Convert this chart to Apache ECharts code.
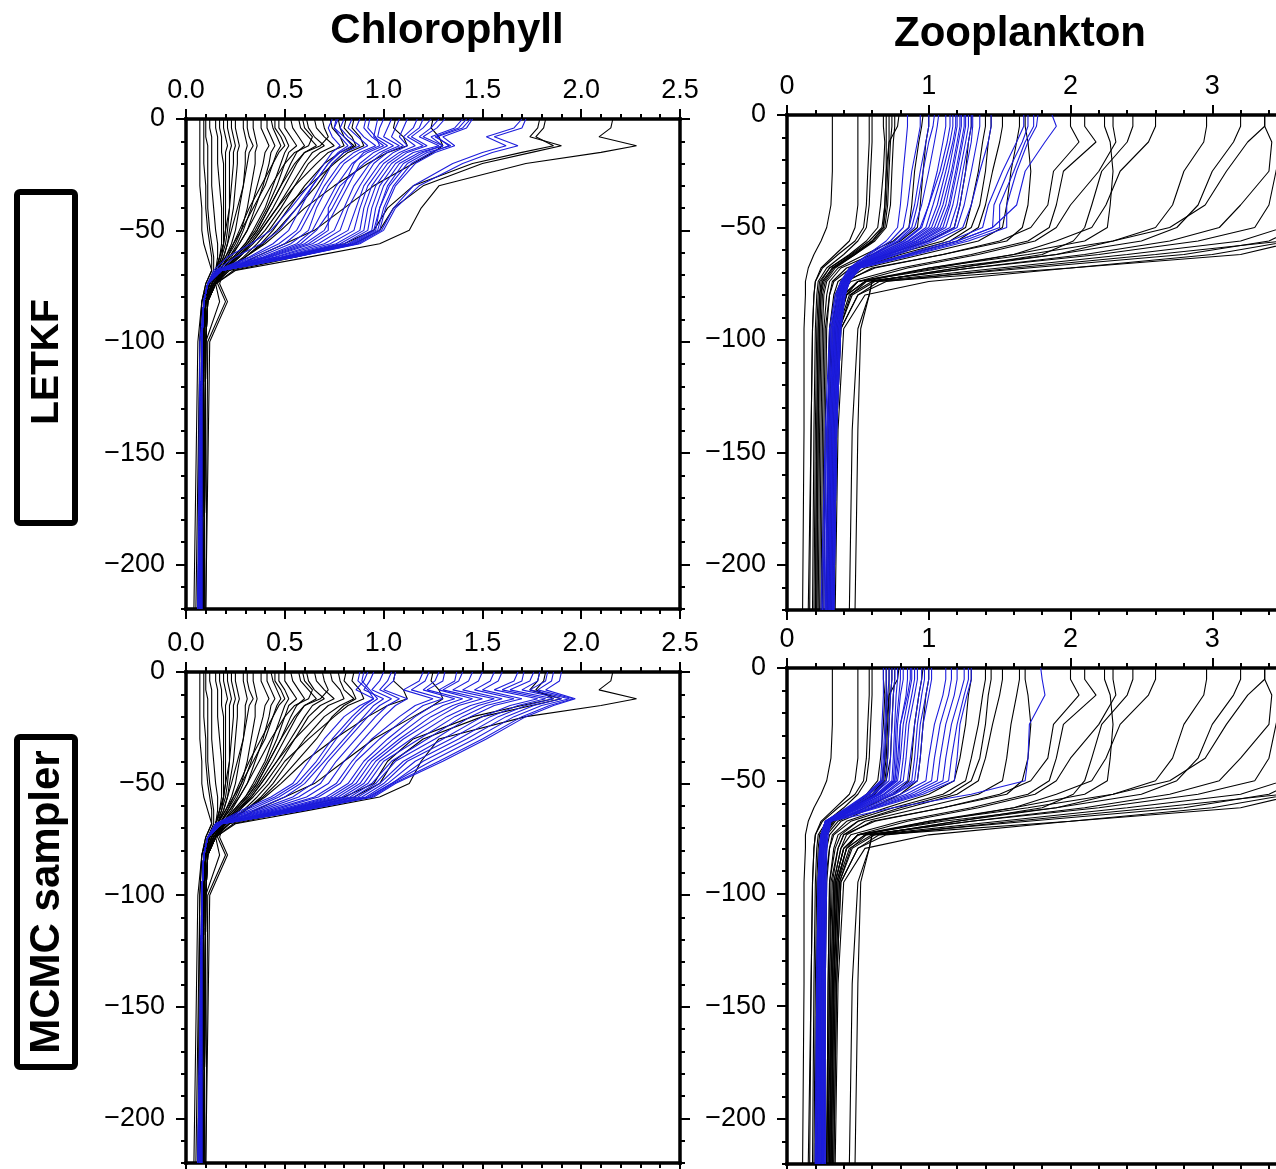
<!DOCTYPE html>
<html><head><meta charset="utf-8">
<script src="https://cdn.jsdelivr.net/npm/echarts@6/dist/echarts.min.js"></script>
<style>html,body{margin:0;padding:0;background:#fff}#c{width:1276px;height:1169px}</style>
</head><body><div id="c"></div>
<script>
// ---- depth levels (m) ----
const chlDepths = [0,-4,-8,-12,-15,-20,-30,-40,-50,-56,-62,-68,-74,-82,-100,-220];
const zooDepths = [0,-5,-12,-25,-40,-50,-56,-62,-68,-74,-80,-95,-140,-220];
// ---- tick labels ----
const chlTicks = [0,0.5,1,1.5,2,2.5];
const zooTicks = [0,1,2,3];
const depthTicks = [0,-50,-100,-150,-200];
const columnTitles = ["Chlorophyll","Zooplankton"];
const rowTitles = ["LETKF","MCMC sampler"];

// ---- chlorophyll, black ensemble (shared by both rows) ----
const chlBlack = [
[0.07,0.07,0.07,0.07,0.07,0.07,0.07,0.08,0.08,0.09,0.11,0.13,0.10,0.08,0.06,0.04],
[0.09,0.09,0.09,0.09,0.09,0.09,0.10,0.10,0.11,0.12,0.13,0.13,0.10,0.08,0.07,0.06],
[0.10,0.10,0.10,0.11,0.11,0.11,0.11,0.11,0.12,0.13,0.14,0.14,0.11,0.08,0.07,0.05],
[0.12,0.12,0.13,0.13,0.13,0.13,0.13,0.14,0.15,0.16,0.16,0.15,0.11,0.09,0.08,0.06],
[0.15,0.15,0.16,0.16,0.16,0.16,0.17,0.18,0.18,0.18,0.17,0.15,0.12,0.09,0.08,0.07],
[0.17,0.17,0.18,0.18,0.18,0.19,0.19,0.19,0.19,0.19,0.17,0.15,0.12,0.09,0.08,0.07],
[0.19,0.19,0.20,0.21,0.20,0.20,0.20,0.20,0.20,0.19,0.18,0.15,0.12,0.10,0.08,0.07],
[0.21,0.21,0.22,0.23,0.22,0.22,0.22,0.22,0.21,0.20,0.18,0.16,0.15,0.17,0.10,0.09],
[0.23,0.23,0.24,0.25,0.24,0.24,0.23,0.22,0.20,0.19,0.17,0.15,0.12,0.09,0.08,0.07],
[0.25,0.25,0.26,0.27,0.26,0.26,0.25,0.24,0.22,0.21,0.19,0.16,0.13,0.10,0.09,0.08],
[0.29,0.29,0.30,0.31,0.30,0.30,0.29,0.27,0.25,0.23,0.20,0.16,0.13,0.10,0.09,0.08],
[0.31,0.31,0.32,0.34,0.32,0.31,0.29,0.26,0.23,0.21,0.19,0.16,0.12,0.09,0.08,0.07],
[0.34,0.34,0.35,0.36,0.35,0.35,0.33,0.31,0.28,0.25,0.21,0.17,0.16,0.20,0.11,0.10],
[0.38,0.38,0.40,0.42,0.40,0.39,0.36,0.33,0.29,0.26,0.22,0.17,0.13,0.10,0.09,0.08],
[0.41,0.41,0.43,0.45,0.43,0.42,0.39,0.35,0.31,0.27,0.23,0.18,0.14,0.10,0.09,0.08],
[0.43,0.44,0.46,0.48,0.46,0.44,0.40,0.34,0.28,0.24,0.20,0.16,0.12,0.09,0.08,0.07],
[0.45,0.45,0.48,0.50,0.47,0.44,0.38,0.32,0.27,0.24,0.21,0.17,0.13,0.10,0.09,0.08],
[0.47,0.47,0.50,0.52,0.50,0.48,0.44,0.40,0.34,0.30,0.24,0.18,0.13,0.10,0.09,0.08],
[0.50,0.50,0.53,0.56,0.52,0.50,0.46,0.41,0.35,0.30,0.24,0.18,0.14,0.10,0.09,0.09],
[0.53,0.54,0.57,0.60,0.56,0.53,0.48,0.42,0.36,0.31,0.25,0.19,0.17,0.21,0.12,0.10],
[0.57,0.58,0.62,0.66,0.60,0.56,0.50,0.44,0.37,0.32,0.26,0.19,0.14,0.10,0.09,0.08],
[0.59,0.60,0.64,0.62,0.55,0.50,0.43,0.37,0.31,0.27,0.22,0.17,0.13,0.10,0.09,0.08],
[0.61,0.62,0.65,0.70,0.64,0.60,0.53,0.46,0.38,0.33,0.26,0.19,0.14,0.11,0.10,0.09],
[0.65,0.66,0.70,0.75,0.68,0.62,0.55,0.48,0.40,0.34,0.27,0.20,0.15,0.11,0.10,0.09],
[0.69,0.70,0.72,0.68,0.60,0.55,0.48,0.42,0.36,0.31,0.25,0.19,0.14,0.10,0.09,0.08],
[0.73,0.74,0.78,0.80,0.72,0.66,0.55,0.46,0.38,0.33,0.27,0.19,0.14,0.10,0.09,0.08],
[0.77,0.78,0.80,0.85,0.78,0.70,0.60,0.52,0.44,0.38,0.30,0.21,0.15,0.11,0.10,0.09],
[0.81,0.80,0.84,0.86,0.80,0.74,0.66,0.56,0.46,0.39,0.30,0.20,0.15,0.11,0.10,0.09],
[0.85,0.84,0.88,0.90,0.82,0.75,0.62,0.50,0.42,0.36,0.29,0.20,0.14,0.10,0.09,0.08],
[1.06,1.05,1.10,1.12,1.02,0.92,0.75,0.60,0.48,0.40,0.30,0.20,0.15,0.11,0.10,0.09],
[1.25,1.24,1.28,1.30,1.25,1.15,0.95,0.80,0.65,0.50,0.35,0.22,0.15,0.11,0.10,0.09],
[1.79,1.78,1.74,1.90,1.75,1.50,1.20,1.05,0.98,0.85,0.55,0.24,0.15,0.10,0.09,0.08],
[1.82,1.81,1.77,1.86,1.70,1.45,1.15,1.02,0.95,0.80,0.50,0.22,0.14,0.10,0.09,0.08],
[2.16,2.15,2.09,2.28,2.10,1.72,1.28,1.19,1.13,0.98,0.62,0.25,0.15,0.11,0.09,0.08]
];
// ---- chlorophyll, blue ensemble, LETKF ----
const chlBlueLETKF = [
[0.74,0.72,0.74,0.78,0.74,0.70,0.62,0.53,0.43,0.33,0.21,0.14,0.11,0.09,0.07,0.06],
[0.76,0.75,0.78,0.82,0.77,0.72,0.64,0.56,0.47,0.38,0.25,0.15,0.11,0.09,0.08,0.07],
[0.77,0.75,0.80,0.84,0.78,0.72,0.64,0.58,0.52,0.44,0.32,0.15,0.11,0.09,0.08,0.07],
[0.80,0.78,0.82,0.88,0.80,0.74,0.68,0.62,0.56,0.47,0.33,0.16,0.11,0.09,0.08,0.07],
[0.84,0.82,0.87,0.92,0.85,0.78,0.70,0.64,0.58,0.50,0.35,0.16,0.11,0.09,0.08,0.06],
[0.88,0.86,0.90,0.96,0.88,0.80,0.72,0.66,0.62,0.53,0.37,0.16,0.11,0.09,0.08,0.07],
[0.91,0.90,0.94,1.00,0.92,0.84,0.76,0.70,0.64,0.56,0.39,0.16,0.11,0.09,0.08,0.07],
[0.93,0.92,0.96,0.98,0.90,0.85,0.80,0.74,0.66,0.58,0.40,0.16,0.11,0.09,0.08,0.08],
[0.97,0.96,0.95,1.02,0.95,0.88,0.82,0.76,0.70,0.60,0.41,0.16,0.11,0.09,0.08,0.07],
[1.00,0.98,0.97,1.05,0.98,0.90,0.78,0.72,0.72,0.62,0.42,0.16,0.11,0.09,0.08,0.07],
[1.04,1.02,1.00,1.08,1.00,0.93,0.85,0.80,0.75,0.64,0.43,0.17,0.11,0.09,0.08,0.06],
[1.08,1.06,1.04,1.10,1.02,0.95,0.88,0.82,0.78,0.67,0.45,0.17,0.11,0.09,0.08,0.07],
[1.12,1.10,1.08,1.12,1.05,0.98,0.90,0.86,0.82,0.70,0.46,0.17,0.11,0.09,0.08,0.07],
[1.17,1.15,1.10,1.16,1.08,1.00,0.92,0.88,0.85,0.73,0.48,0.17,0.11,0.09,0.08,0.08],
[1.20,1.18,1.12,1.20,1.10,1.02,0.94,0.90,0.88,0.76,0.49,0.17,0.11,0.09,0.08,0.07],
[1.24,1.20,1.14,1.22,1.12,1.04,0.96,0.92,0.90,0.78,0.50,0.17,0.11,0.09,0.08,0.07],
[1.28,1.24,1.18,1.28,1.15,1.06,0.98,0.94,0.92,0.80,0.51,0.17,0.11,0.09,0.08,0.06],
[1.31,1.27,1.20,1.30,1.18,1.08,1.00,0.96,0.94,0.82,0.52,0.18,0.11,0.09,0.08,0.07],
[1.40,1.36,1.24,1.30,1.20,1.10,1.02,0.98,0.95,0.83,0.53,0.18,0.11,0.09,0.08,0.07],
[1.42,1.38,1.26,1.34,1.22,1.12,1.03,0.98,0.96,0.84,0.53,0.18,0.11,0.09,0.08,0.08],
[1.44,1.40,1.27,1.33,1.24,1.14,1.05,1.00,0.97,0.85,0.54,0.18,0.11,0.09,0.08,0.07],
[1.45,1.42,1.30,1.36,1.26,1.16,1.06,1.01,0.98,0.86,0.54,0.18,0.11,0.09,0.08,0.07],
[1.70,1.66,1.52,1.62,1.50,1.35,1.15,1.05,0.99,0.87,0.55,0.18,0.11,0.09,0.08,0.07],
[1.72,1.70,1.56,1.68,1.55,1.40,1.18,1.06,1.00,0.88,0.55,0.18,0.11,0.09,0.08,0.07]
];
// ---- chlorophyll, blue ensemble, MCMC ----
const chlBlueMCMC = [
[0.88,0.87,0.92,0.95,0.90,0.84,0.74,0.66,0.56,0.45,0.30,0.15,0.11,0.09,0.08,0.07],
[0.90,0.89,0.93,0.97,0.92,0.86,0.76,0.68,0.58,0.47,0.32,0.15,0.11,0.09,0.08,0.07],
[0.95,0.93,0.90,1.00,0.95,0.90,0.80,0.70,0.60,0.50,0.34,0.15,0.11,0.09,0.08,0.06],
[1.00,0.98,0.94,1.04,0.98,0.92,0.82,0.72,0.64,0.54,0.36,0.16,0.11,0.09,0.08,0.07],
[1.04,1.02,0.98,1.08,1.02,0.96,0.86,0.76,0.68,0.57,0.38,0.16,0.11,0.09,0.08,0.07],
[1.06,1.05,1.00,1.12,1.06,1.00,0.90,0.80,0.72,0.61,0.40,0.16,0.11,0.09,0.08,0.08],
[1.20,1.18,1.10,1.25,1.16,1.08,0.94,0.84,0.76,0.65,0.42,0.16,0.11,0.09,0.08,0.07],
[1.23,1.21,1.14,1.30,1.20,1.12,0.98,0.86,0.78,0.67,0.44,0.17,0.11,0.09,0.08,0.07],
[1.28,1.26,1.20,1.36,1.25,1.16,1.02,0.90,0.82,0.71,0.46,0.17,0.11,0.09,0.08,0.06],
[1.31,1.30,1.22,1.40,1.30,1.20,1.05,0.92,0.84,0.73,0.48,0.17,0.11,0.09,0.08,0.07],
[1.37,1.36,1.28,1.45,1.35,1.24,1.08,0.94,0.86,0.75,0.49,0.17,0.11,0.09,0.08,0.07],
[1.40,1.38,1.30,1.50,1.38,1.28,1.10,0.96,0.88,0.77,0.50,0.17,0.11,0.09,0.08,0.08],
[1.45,1.43,1.35,1.56,1.44,1.32,1.14,0.98,0.90,0.79,0.51,0.17,0.11,0.09,0.08,0.07],
[1.50,1.48,1.40,1.60,1.48,1.36,1.18,1.00,0.92,0.81,0.52,0.17,0.11,0.09,0.08,0.07],
[1.56,1.54,1.46,1.66,1.52,1.40,1.22,1.04,0.94,0.83,0.53,0.18,0.11,0.09,0.08,0.07],
[1.60,1.58,1.50,1.70,1.56,1.44,1.26,1.06,0.96,0.85,0.54,0.18,0.11,0.09,0.08,0.07],
[1.68,1.66,1.56,1.78,1.64,1.50,1.30,1.10,0.98,0.87,0.55,0.18,0.11,0.09,0.08,0.06],
[1.71,1.70,1.60,1.82,1.68,1.54,1.34,1.12,1.00,0.89,0.56,0.18,0.11,0.09,0.08,0.07],
[1.76,1.74,1.64,1.86,1.72,1.58,1.38,1.16,1.02,0.91,0.57,0.18,0.11,0.09,0.08,0.07],
[1.79,1.78,1.70,1.90,1.76,1.62,1.42,1.20,1.04,0.92,0.58,0.18,0.11,0.09,0.08,0.08],
[1.83,1.82,1.74,1.94,1.80,1.66,1.46,1.24,1.04,0.93,0.58,0.18,0.11,0.09,0.08,0.07],
[1.86,1.85,1.78,1.96,1.84,1.70,1.50,1.28,1.05,0.94,0.59,0.18,0.11,0.09,0.08,0.07],
[1.90,1.89,1.82,1.97,1.86,1.72,1.52,1.30,1.06,0.95,0.59,0.18,0.11,0.09,0.08,0.07],
[0.92,0.90,0.86,0.95,0.88,0.80,0.70,0.62,0.54,0.43,0.28,0.15,0.11,0.09,0.08,0.07]
];
// ---- zooplankton, black ensemble (shared by both rows) ----
const zooBlack = [
[0.32,0.32,0.32,0.32,0.31,0.28,0.24,0.19,0.15,0.13,0.13,0.12,0.12,0.11],
[0.58,0.58,0.58,0.57,0.56,0.54,0.48,0.36,0.25,0.20,0.19,0.18,0.17,0.16],
[0.60,0.60,0.60,0.59,0.58,0.56,0.50,0.40,0.28,0.22,0.21,0.20,0.19,0.18],
[0.68,0.68,0.69,0.68,0.66,0.64,0.56,0.44,0.30,0.23,0.22,0.21,0.20,0.19],
[0.72,0.72,0.72,0.71,0.70,0.68,0.60,0.46,0.32,0.25,0.23,0.22,0.21,0.20],
[0.76,0.76,0.75,0.74,0.73,0.70,0.62,0.48,0.33,0.26,0.24,0.23,0.22,0.21],
[0.79,0.78,0.72,0.70,0.69,0.68,0.60,0.48,0.34,0.27,0.25,0.24,0.23,0.22],
[0.96,0.95,0.93,0.90,0.88,0.86,0.75,0.55,0.36,0.28,0.26,0.25,0.24,0.23],
[1.00,1.00,0.98,0.96,0.94,0.92,0.80,0.60,0.38,0.30,0.28,0.26,0.25,0.24],
[1.40,1.40,1.38,1.35,1.30,1.26,1.10,0.75,0.45,0.33,0.30,0.28,0.27,0.26],
[1.44,1.44,1.42,1.40,1.36,1.30,1.15,0.80,0.50,0.36,0.33,0.30,0.29,0.28],
[1.52,1.52,1.50,1.45,1.40,1.35,1.20,0.85,0.50,0.38,0.34,0.30,0.29,0.28],
[1.64,1.64,1.62,1.58,1.55,1.52,1.35,0.95,0.55,0.40,0.36,0.31,0.30,0.29],
[1.68,1.68,1.70,1.72,1.70,1.66,1.55,1.10,0.60,0.42,0.38,0.33,0.31,0.30],
[2.00,2.00,2.06,1.88,1.84,1.72,1.50,1.10,0.62,0.40,0.36,0.32,0.30,0.28],
[2.10,2.10,2.18,1.95,1.90,1.85,1.70,1.30,0.80,0.45,0.38,0.33,0.31,0.29],
[2.24,2.24,2.28,2.30,2.28,2.26,2.10,1.60,1.00,0.55,0.42,0.35,0.33,0.31],
[2.30,2.30,2.32,2.20,2.00,1.90,1.75,1.35,0.85,0.50,0.40,0.34,0.32,0.30],
[2.44,2.44,2.40,2.22,2.15,2.10,2.02,1.80,1.20,0.60,0.58,0.50,0.46,0.44],
[2.60,2.60,2.55,2.35,2.25,2.15,1.90,1.60,1.05,0.50,0.40,0.34,0.32,0.30],
[2.96,2.96,2.94,2.80,2.72,2.60,2.30,1.90,1.20,0.60,0.58,0.52,0.50,0.48],
[3.20,3.20,3.15,3.00,2.90,2.75,2.50,1.90,1.10,0.50,0.42,0.36,0.33,0.31],
[3.37,3.37,3.42,3.40,3.20,3.05,2.70,2.10,1.30,0.55,0.42,0.35,0.33,0.31],
[3.37,3.37,3.25,3.10,2.95,2.70,2.30,1.70,1.00,0.50,0.40,0.34,0.32,0.30],
[3.55,3.55,3.50,3.45,3.40,3.30,2.90,2.20,1.30,0.56,0.45,0.37,0.34,0.32],
[3.70,3.70,3.65,3.60,3.55,3.50,3.20,2.40,1.50,0.60,0.44,0.36,0.33,0.31],
[3.80,3.80,3.75,3.70,3.65,3.60,3.55,3.00,2.00,1.00,0.55,0.40,0.36,0.34],
[3.90,3.90,3.85,3.80,3.70,3.60,3.40,2.80,1.70,0.62,0.46,0.37,0.34,0.32],
[4.10,4.10,4.00,3.90,3.85,3.80,3.60,3.20,2.00,0.65,0.50,0.38,0.35,0.33],
[4.20,4.20,4.10,4.00,3.90,3.80,3.50,2.60,1.60,0.70,0.50,0.38,0.35,0.33],
[0.70,0.70,0.70,0.70,0.69,0.67,0.58,0.45,0.30,0.24,0.23,0.22,0.21,0.20],
[0.74,0.74,0.73,0.72,0.71,0.69,0.61,0.47,0.32,0.25,0.24,0.23,0.22,0.21],
[1.30,1.30,1.28,1.26,1.22,1.18,1.00,0.70,0.42,0.32,0.30,0.27,0.26,0.25],
[0.50,0.50,0.50,0.50,0.50,0.48,0.44,0.34,0.24,0.20,0.19,0.18,0.17,0.15]
];
// ---- zooplankton, blue ensemble, LETKF ----
const zooBlueLETKF = [
[0.85,0.85,0.84,0.82,0.80,0.78,0.70,0.57,0.44,0.38,0.34,0.30,0.27,0.24],
[0.94,0.94,0.92,0.88,0.85,0.82,0.73,0.58,0.44,0.38,0.35,0.31,0.28,0.25],
[1.00,1.00,0.98,0.94,0.90,0.86,0.76,0.60,0.45,0.39,0.35,0.31,0.28,0.26],
[1.04,1.03,1.00,0.96,0.92,0.88,0.78,0.61,0.45,0.39,0.36,0.32,0.29,0.27],
[1.07,1.06,1.04,1.00,0.95,0.90,0.79,0.62,0.46,0.39,0.36,0.32,0.29,0.27],
[1.15,1.15,1.13,1.08,1.00,0.95,0.83,0.64,0.46,0.40,0.36,0.33,0.30,0.28],
[1.17,1.17,1.15,1.10,1.03,0.98,0.85,0.65,0.46,0.40,0.37,0.33,0.30,0.28],
[1.19,1.19,1.17,1.12,1.06,1.00,0.86,0.66,0.47,0.40,0.37,0.33,0.31,0.29],
[1.20,1.20,1.18,1.14,1.08,1.02,0.88,0.67,0.47,0.41,0.37,0.34,0.31,0.29],
[1.22,1.22,1.20,1.16,1.10,1.04,0.89,0.68,0.47,0.41,0.38,0.34,0.31,0.29],
[1.23,1.23,1.21,1.17,1.12,1.06,0.91,0.69,0.48,0.41,0.38,0.34,0.32,0.30],
[1.25,1.25,1.23,1.19,1.14,1.08,0.92,0.70,0.48,0.41,0.38,0.35,0.32,0.30],
[1.26,1.26,1.24,1.20,1.15,1.10,0.94,0.71,0.48,0.42,0.38,0.35,0.32,0.30],
[1.28,1.28,1.26,1.22,1.17,1.12,0.95,0.72,0.49,0.42,0.39,0.35,0.33,0.31],
[1.30,1.30,1.28,1.24,1.20,1.15,0.97,0.73,0.49,0.42,0.39,0.36,0.33,0.31],
[1.31,1.31,1.30,1.26,1.22,1.18,0.99,0.75,0.49,0.42,0.39,0.36,0.33,0.31],
[1.36,1.36,1.34,1.30,1.25,1.20,1.01,0.76,0.50,0.43,0.40,0.36,0.34,0.32],
[1.44,1.44,1.42,1.36,1.30,1.24,1.04,0.78,0.50,0.43,0.40,0.37,0.34,0.32],
[1.67,1.67,1.62,1.52,1.42,1.38,1.15,0.84,0.50,0.43,0.40,0.37,0.34,0.32],
[1.70,1.70,1.66,1.56,1.46,1.45,1.20,0.87,0.51,0.43,0.40,0.37,0.35,0.33],
[1.74,1.74,1.68,1.60,1.50,1.50,1.24,0.89,0.51,0.44,0.41,0.37,0.35,0.33],
[1.77,1.76,1.70,1.62,1.55,1.55,1.28,0.91,0.52,0.44,0.41,0.38,0.35,0.33],
[1.87,1.90,1.82,1.68,1.62,1.45,1.20,0.86,0.51,0.44,0.41,0.38,0.35,0.33],
[1.12,1.12,1.10,1.06,1.00,0.94,0.82,0.63,0.46,0.40,0.36,0.33,0.30,0.28]
];
// ---- zooplankton, blue ensemble, MCMC ----
const zooBlueMCMC = [
[0.68,0.68,0.68,0.67,0.67,0.66,0.56,0.42,0.27,0.24,0.23,0.22,0.21,0.20],
[0.70,0.70,0.70,0.69,0.68,0.67,0.57,0.43,0.27,0.24,0.23,0.22,0.21,0.20],
[0.72,0.72,0.71,0.70,0.69,0.68,0.58,0.43,0.27,0.24,0.23,0.22,0.21,0.21],
[0.74,0.74,0.73,0.72,0.71,0.70,0.60,0.44,0.27,0.24,0.23,0.22,0.22,0.21],
[0.76,0.76,0.75,0.74,0.73,0.72,0.61,0.45,0.28,0.25,0.24,0.23,0.22,0.21],
[0.78,0.78,0.77,0.76,0.75,0.74,0.63,0.46,0.28,0.25,0.24,0.23,0.22,0.22],
[0.80,0.80,0.79,0.77,0.76,0.75,0.64,0.46,0.28,0.25,0.24,0.23,0.23,0.22],
[0.85,0.85,0.84,0.80,0.78,0.76,0.65,0.47,0.28,0.25,0.24,0.24,0.23,0.22],
[0.88,0.88,0.86,0.82,0.80,0.78,0.66,0.48,0.28,0.25,0.25,0.24,0.23,0.23],
[0.90,0.90,0.88,0.84,0.82,0.80,0.68,0.49,0.28,0.26,0.25,0.24,0.24,0.23],
[0.92,0.92,0.90,0.86,0.84,0.82,0.69,0.49,0.29,0.26,0.25,0.25,0.24,0.23],
[0.95,0.95,0.93,0.90,0.87,0.85,0.71,0.50,0.29,0.26,0.25,0.25,0.24,0.24],
[0.97,0.97,0.95,0.92,0.90,0.88,0.73,0.51,0.29,0.26,0.26,0.25,0.25,0.24],
[1.00,1.00,0.98,0.94,0.92,0.90,0.75,0.52,0.29,0.27,0.26,0.25,0.25,0.24],
[1.02,1.02,1.00,0.96,0.94,0.92,0.76,0.53,0.29,0.27,0.26,0.26,0.25,0.25],
[1.12,1.12,1.10,1.04,1.00,0.98,0.80,0.55,0.30,0.27,0.26,0.26,0.25,0.25],
[1.16,1.16,1.14,1.08,1.04,1.02,0.84,0.57,0.30,0.27,0.27,0.26,0.26,0.25],
[1.20,1.20,1.18,1.12,1.08,1.06,0.87,0.59,0.30,0.28,0.27,0.26,0.26,0.26],
[1.25,1.25,1.22,1.16,1.12,1.10,0.90,0.61,0.30,0.28,0.27,0.27,0.26,0.26],
[1.28,1.28,1.25,1.20,1.16,1.14,0.93,0.62,0.31,0.28,0.28,0.27,0.27,0.26],
[1.30,1.30,1.27,1.22,1.20,1.18,0.96,0.64,0.31,0.29,0.28,0.27,0.27,0.27],
[1.79,1.80,1.82,1.71,1.70,1.68,1.30,0.75,0.31,0.29,0.28,0.28,0.27,0.27],
[0.82,0.82,0.80,0.78,0.77,0.76,0.64,0.47,0.28,0.25,0.24,0.23,0.22,0.22],
[0.87,0.87,0.85,0.80,0.79,0.77,0.65,0.47,0.28,0.25,0.24,0.24,0.23,0.22]
];

const BLACK = '#000000';
const BLUE = '#1c1cdc';
const FONT = '"Liberation Sans", Arial, Helvetica, sans-serif';

const panels = [
  {left:186, top:119, width:494, height:490, xmax:2.5, xint:0.5, depths:chlDepths, black:chlBlack, blue:chlBlueLETKF, fmt:v=>v.toFixed(1)},
  {left:787, top:115, width:567, height:495, xmax:4, xint:1, depths:zooDepths, black:zooBlack, blue:zooBlueLETKF, fmt:v=>(zooTicks.indexOf(v)>=0?String(v):'')},
  {left:186, top:672, width:494, height:491, xmax:2.5, xint:0.5, depths:chlDepths, black:chlBlack, blue:chlBlueMCMC, fmt:v=>v.toFixed(1)},
  {left:787, top:668, width:567, height:496, xmax:4, xint:1, depths:zooDepths, black:zooBlack, blue:zooBlueMCMC, fmt:v=>(zooTicks.indexOf(v)>=0?String(v):'')}
];

const grid=[], xAxis=[], yAxis=[], series=[];
const axisLine = {show:true, onZero:false, lineStyle:{color:BLACK, width:3.5, cap:'square'}};
const depthFmt = v => v < 0 ? '\u2212' + (-v) : String(v);

panels.forEach((p, g) => {
  grid.push({left:p.left, top:p.top, width:p.width, height:p.height, containLabel:false, outerBoundsMode:'none'});
  const xi = xAxis.length;
  const xBase = {gridIndex:g, type:'value', min:0, max:p.xmax, interval:p.xint, splitLine:{show:false}};
  xAxis.push(Object.assign({}, xBase, {position:'top', axisLine:axisLine,
    axisTick:{show:true, length:10, lineStyle:{color:BLACK, width:2}},
    minorTick:{show:true, splitNumber:5, length:5, lineStyle:{color:BLACK, width:2}},
    axisLabel:{show:true, color:BLACK, fontSize:27, fontFamily:FONT, margin:15,
      formatter:p.fmt, showMaxLabel: p.xmax===2.5}}));
  xAxis.push(Object.assign({}, xBase, {position:'bottom', axisLine:axisLine,
    axisTick:{show:true, length:10, lineStyle:{color:BLACK, width:2}},
    minorTick:{show:true, splitNumber:5, length:5, lineStyle:{color:BLACK, width:2}},
    axisLabel:{show:false}}));
  const yi = yAxis.length;
  const yBase = {gridIndex:g, type:'value', min:-220, max:0, splitLine:{show:false}};
  yAxis.push(Object.assign({}, yBase, {position:'left', axisLine:axisLine,
    axisTick:{show:true, length:10, customValues:depthTicks, lineStyle:{color:BLACK, width:2}},
    axisLabel:{show:true, customValues:depthTicks, formatter:depthFmt, color:BLACK, fontSize:27, fontFamily:FONT, margin:21}}));
  yAxis.push(Object.assign({}, yBase, {position:'left', interval:10, axisLine:{show:false, onZero:false},
    axisTick:{show:true, length:5, lineStyle:{color:BLACK, width:2}}, axisLabel:{show:false}}));
  yAxis.push(Object.assign({}, yBase, {position:'right', axisLine:axisLine,
    axisTick:{show:true, length:10, customValues:depthTicks, lineStyle:{color:BLACK, width:2}},
    axisLabel:{show:false}}));
  yAxis.push(Object.assign({}, yBase, {position:'right', interval:10, axisLine:{show:false, onZero:false},
    axisTick:{show:true, length:5, lineStyle:{color:BLACK, width:2}}, axisLabel:{show:false}}));

  const mk = (vals, color) => ({
    type:'line', xAxisIndex:xi, yAxisIndex:yi, symbol:'none', silent:true, animation:false,
    clip:true, lineStyle:{color:color, width:1.1}, emphasis:{disabled:true},
    data: vals.map((v,i)=>[v, p.depths[i]])
  });
  p.black.forEach(v => series.push(mk(v, BLACK)));
  p.blue.forEach(v => series.push(mk(v, BLUE)));
});

const graphic = [
  {type:'text', x:447, y:31, style:{text:columnTitles[0], font:'bold 42px '+FONT, fill:BLACK, align:'center', verticalAlign:'middle'}},
  {type:'text', x:1020, y:34, style:{text:columnTitles[1], font:'bold 42px '+FONT, fill:BLACK, align:'center', verticalAlign:'middle'}},
  {type:'rect', shape:{x:17, y:192, width:58, height:331, r:3}, style:{fill:'none', stroke:BLACK, lineWidth:6}},
  {type:'rect', shape:{x:17, y:737, width:58, height:330, r:3}, style:{fill:'none', stroke:BLACK, lineWidth:6}},
  {type:'text', x:47, y:362, rotation:Math.PI/2, style:{text:rowTitles[0], font:'bold 39px '+FONT, fill:BLACK, align:'center', verticalAlign:'middle'}},
  {type:'text', x:47, y:902, rotation:Math.PI/2, style:{text:rowTitles[1], font:'bold 42px '+FONT, fill:BLACK, align:'center', verticalAlign:'middle'}}
];

const chart = echarts.init(document.getElementById('c'), null, {renderer:'canvas'});
chart.setOption({animation:false, backgroundColor:'#fff', grid, xAxis, yAxis, series, graphic});
</script></body></html>
